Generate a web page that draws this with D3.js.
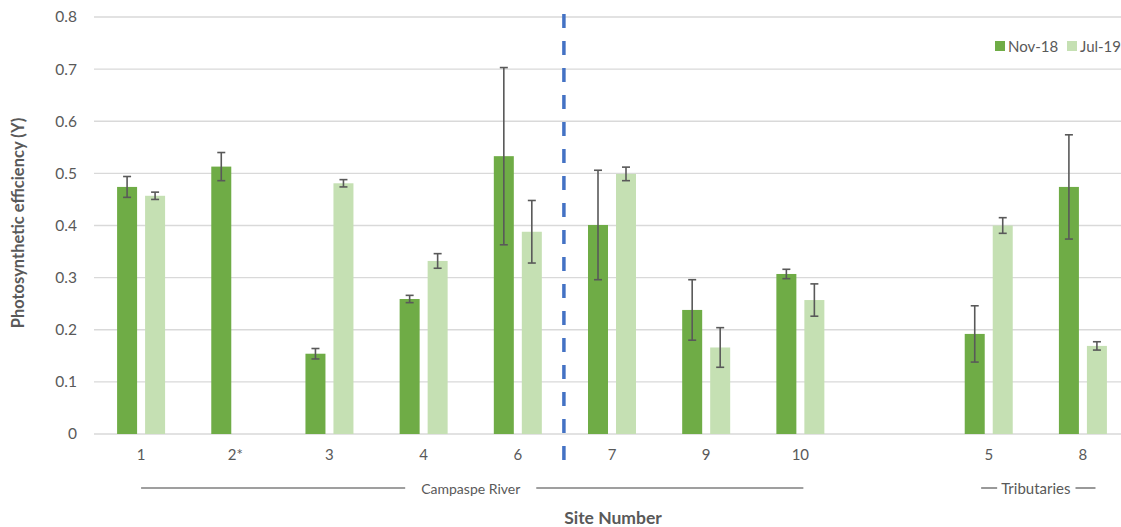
<!DOCTYPE html>
<html>
<head>
<meta charset="utf-8">
<script src="https://cdn.jsdelivr.net/npm/d3@7"></script>
<style>
  html, body { margin: 0; padding: 0; background: #fff; overflow: hidden; }
  svg { display: block; font-family: Lato, "Open Sans", sans-serif; }
</style>
</head>
<body>
<svg id="chart" width="1121" height="527"></svg>
<script>
// ---- data ----
const categories = ["1", "2*", "3", "4", "6", "7", "9", "10", "", "5", "8"];
const seriesNames = ["Nov-18", "Jul-19"];
const nov18 = [0.474, 0.513, 0.154, 0.259, 0.533, 0.401, 0.238, 0.307, null, 0.192, 0.474];
const nov18Err = [0.020, 0.027, 0.010, 0.007, 0.170, 0.105, 0.058, 0.009, null, 0.054, 0.100];
const jul19 = [0.457, null, 0.481, 0.332, 0.388, 0.499, 0.166, 0.257, null, 0.400, 0.169];
const jul19Err = [0.007, null, 0.007, 0.014, 0.060, 0.013, 0.038, 0.031, null, 0.015, 0.008];
const yTicks = [0, 0.1, 0.2, 0.3, 0.4, 0.5, 0.6, 0.7, 0.8];
const groups = [
  { name: "Campaspe River", from: "1", to: "10" },
  { name: "Tributaries", from: "5", to: "8" }
];
const dividerAfter = "6";

// ---- layout ----
const svg = d3.select("#chart");
const colors = { "Nov-18": "#6fac46", "Jul-19": "#c5e0b3" };
const textColor = "#595959";

const x = d3.scaleBand().domain(categories).range([94, 1130]).padding(0);
const xs = d3.scaleBand().domain(seriesNames).range([-24, 24]).paddingInner(8 / 28).paddingOuter(0);
const y = d3.scaleLinear().domain([0, 0.8]).range([434, 17]);

// gridlines
svg.append("g").selectAll("line").data(yTicks).join("line")
  .attr("x1", 94).attr("x2", 1130)
  .attr("y1", d => y(d)).attr("y2", d => y(d))
  .attr("stroke", "#d9d9d9").attr("stroke-width", 1.3);

// y axis labels
const yAxis = d3.axisLeft(y).tickValues(yTicks).tickSize(0).tickPadding(0)
  .tickFormat(d => d === 0 ? "0" : d3.format(".1f")(d));
svg.append("g").attr("transform", "translate(77,0)").call(yAxis)
  .call(g => g.select(".domain").remove())
  .call(g => g.selectAll("text").attr("fill", textColor).attr("font-size", 15.5).attr("font-family", "Lato, sans-serif"));

// x axis labels
const xAxis = d3.axisBottom(x).tickSize(0).tickPadding(0);
svg.append("g").attr("transform", "translate(0,449)").call(xAxis)
  .call(g => g.select(".domain").remove())
  .call(g => g.selectAll("text").attr("fill", textColor).attr("font-size", 15).attr("font-family", "Lato, sans-serif"));

// bars
const rows = [];
categories.forEach((c, i) => {
  rows.push({ cat: c, s: "Nov-18", v: nov18[i], e: nov18Err[i] });
  rows.push({ cat: c, s: "Jul-19", v: jul19[i], e: jul19Err[i] });
});
const valid = rows.filter(r => r.v != null);

svg.append("g").selectAll("rect").data(valid).join("rect")
  .attr("x", d => x(d.cat) + x.bandwidth() / 2 + xs(d.s))
  .attr("width", xs.bandwidth())
  .attr("y", d => y(d.v))
  .attr("height", d => y(0) - y(d.v))
  .attr("fill", d => colors[d.s]);

// error bars
const eg = svg.append("g").attr("stroke", "#595959").attr("stroke-width", 1.6);
valid.forEach(d => {
  const cx = x(d.cat) + x.bandwidth() / 2 + xs(d.s) + xs.bandwidth() / 2;
  const hi = y(d.v + d.e), lo = y(d.v - d.e);
  eg.append("line").attr("x1", cx).attr("x2", cx).attr("y1", hi).attr("y2", lo);
  eg.append("line").attr("x1", cx - 4).attr("x2", cx + 4).attr("y1", hi).attr("y2", hi);
  eg.append("line").attr("x1", cx - 4).attr("x2", cx + 4).attr("y1", lo).attr("y2", lo);
});

// divider dashed line
const divIdx = categories.indexOf(dividerAfter);
const divX = x(categories[divIdx + 1]) - 1;
svg.append("line")
  .attr("x1", divX).attr("x2", divX).attr("y1", 14).attr("y2", 466)
  .attr("stroke", "#4472c4").attr("stroke-width", 3.5)
  .attr("stroke-dasharray", "14,13");

// group annotations
groups.forEach(g => {
  const x0 = x(g.from) + x.bandwidth() / 2;
  const x1 = x(g.to) + x.bandwidth() / 2;
  const cx = (x0 + x1) / 2;
  const t = svg.append("text").attr("x", cx).attr("y", 488)
    .attr("text-anchor", "middle").attr("dominant-baseline", "central")
    .attr("fill", textColor).attr("font-size", g.name === "Tributaries" ? 15 : 14).text(g.name);
  const w = t.node().getComputedTextLength();
  const gap = 16;
  let la, lb, ra, rb;
  if (g.name === "Tributaries") {
    la = cx - w / 2 - 20; lb = cx - w / 2 - 4;
    ra = cx + w / 2 + 5; rb = cx + w / 2 + 25;
  } else {
    la = x0; lb = cx - w / 2 - gap; ra = cx + w / 2 + gap; rb = x1 + 3;
  }
  svg.append("line").attr("x1", la).attr("x2", lb).attr("y1", 488).attr("y2", 488)
    .attr("stroke", "#7f7f7f").attr("stroke-width", 1.6);
  svg.append("line").attr("x1", ra).attr("x2", rb).attr("y1", 488).attr("y2", 488)
    .attr("stroke", "#7f7f7f").attr("stroke-width", 1.6);
});

// axis titles
svg.append("text").attr("x", 613).attr("y", 517)
  .attr("text-anchor", "middle").attr("dominant-baseline", "central")
  .attr("font-weight", "bold").attr("font-size", 17.5).attr("fill", textColor)
  .text("Site Number");
svg.append("text")
  .attr("transform", "translate(18,223) rotate(-90)")
  .attr("text-anchor", "middle").attr("dominant-baseline", "central")
  .attr("font-weight", "bold").attr("font-size", 16.5).attr("fill", textColor)
  .text("Photosynthetic efficiency (Y)");

// legend
const legend = svg.append("g");
const legendX = [995, 1067];
seriesNames.forEach((s, i) => {
  legend.append("rect").attr("x", legendX[i]).attr("y", 41).attr("width", 10).attr("height", 10).attr("fill", colors[s]);
  legend.append("text").attr("x", legendX[i] + 13).attr("y", 46)
    .attr("dominant-baseline", "central").attr("font-size", 15).attr("fill", textColor).text(s);
});
</script>
</body>
</html>
